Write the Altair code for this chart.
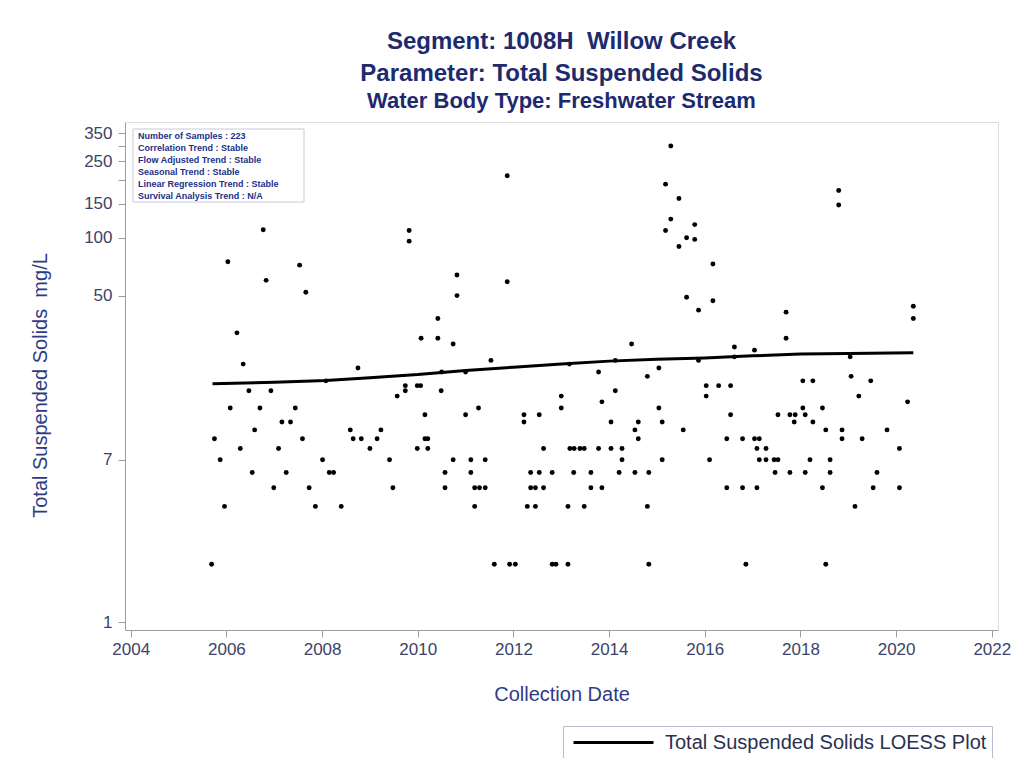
import altair as alt
import pandas as pd

# ---- data ----
years = [
    2006.77, 2009.82, 2009.82, 2006.03, 2007.53, 2006.83, 2007.66, 2006.22, 2010.07, 2006.35,
    2008.75, 2008.08, 2006.47, 2006.93, 2009.74, 2009.74, 2009.99, 2010.06, 2009.57, 2006.08,
    2006.70, 2007.44, 2010.15, 2007.16, 2007.34, 2006.59, 2008.59, 2009.23, 2005.75, 2007.59,
    2008.65, 2008.82, 2009.15, 2010.15, 2010.21, 2006.29, 2007.09, 2009.00, 2009.99, 2010.21,
    2005.87, 2008.01, 2009.41, 2006.54, 2007.25, 2008.15, 2008.24, 2006.99, 2007.73, 2009.48,
    2005.96, 2007.86, 2008.40, 2005.69,
    2015.29, 2011.87, 2015.18, 2015.46, 2015.29, 2015.18, 2015.79, 2015.62, 2015.79, 2015.46,
    2016.17, 2011.87, 2010.82, 2010.82, 2015.62, 2016.17, 2015.87, 2010.42, 2010.42, 2010.74,
    2014.47, 2011.53, 2010.50, 2011.00, 2013.17, 2013.78, 2014.13, 2015.04, 2014.80, 2015.87,
    2010.49, 2014.13, 2016.03, 2016.29, 2016.03, 2013.85, 2013.00, 2013.00, 2011.27, 2011.00,
    2012.22, 2012.54, 2012.22, 2015.04, 2014.04, 2014.61, 2015.11, 2014.54, 2015.55, 2014.61,
    2012.63, 2013.18, 2013.27, 2013.39, 2013.48, 2013.78, 2014.04, 2014.27, 2010.74, 2011.11,
    2011.41, 2014.27, 2015.11, 2016.10, 2010.57, 2011.11, 2012.36, 2012.54, 2012.81, 2013.26,
    2013.62, 2014.21, 2014.54, 2014.83, 2010.57, 2011.19, 2011.29, 2011.41, 2012.36, 2012.46,
    2012.63, 2013.62, 2013.85, 2011.19, 2012.29, 2012.46, 2013.14, 2013.48, 2014.80, 2011.60,
    2011.92, 2012.04, 2012.81, 2012.89, 2013.14, 2014.83,
    2018.80, 2018.80, 2017.70, 2017.70, 2020.36, 2020.36, 2016.62, 2017.04, 2016.62, 2019.04,
    2019.06, 2016.54, 2018.05, 2018.26, 2019.47, 2019.22, 2020.24, 2016.54, 2017.53, 2017.78,
    2017.89, 2018.05, 2018.10, 2018.46, 2017.87, 2018.26, 2018.53, 2018.87, 2019.81, 2018.87,
    2019.29, 2016.46, 2016.79, 2017.04, 2017.14, 2017.09, 2017.28, 2020.07, 2017.14, 2017.28,
    2017.45, 2017.53, 2018.20, 2018.62, 2017.47, 2017.78, 2018.10, 2018.62, 2019.60, 2016.46,
    2016.79, 2017.09, 2018.46, 2019.52, 2020.07, 2019.14, 2016.86, 2018.53,
]
tss = [
    110, 109, 96, 75, 72, 60, 52, 32, 30, 22,
    21, 18, 16, 16, 17, 16, 17, 17, 15, 13,
    13, 13, 12, 11, 11, 10, 10, 10, 9, 9,
    9, 9, 9, 9, 9, 8, 8, 8, 8, 8,
    7, 7, 7, 6, 6, 6, 6, 5, 5, 5,
    4, 4, 4, 2,
    300, 210, 190, 160, 125, 109, 117, 100, 98, 90,
    73, 59, 64, 50, 49, 47, 42, 38, 30, 28,
    28, 23, 20, 20, 22, 20, 23, 21, 19, 23,
    16, 16, 17, 17, 15, 14, 15, 13, 13, 12,
    12, 12, 11, 13, 11, 11, 11, 10, 10, 9,
    8, 8, 8, 8, 8, 8, 8, 8, 7, 7,
    7, 7, 7, 7, 6, 6, 6, 6, 6, 6,
    6, 6, 6, 6, 5, 5, 5, 5, 5, 5,
    5, 5, 5, 4, 4, 4, 4, 4, 4, 2,
    2, 2, 2, 2, 2, 2,
    176, 148, 41, 30, 44, 38, 27, 26, 24, 24,
    19, 17, 18, 18, 18, 15, 14, 12, 12, 12,
    12, 13, 12, 13, 11, 11, 10, 10, 10, 9,
    9, 9, 9, 9, 9, 8, 8, 8, 7, 7,
    7, 7, 7, 7, 6, 6, 6, 6, 6, 5,
    5, 5, 5, 5, 5, 4, 2, 2,
]

loess_years = [2005.71, 2007.0, 2008.08, 2009.0, 2010.0, 2011.0, 2012.0, 2013.0,
               2014.0, 2015.0, 2016.0, 2017.0, 2018.0, 2019.0, 2020.36]
loess_vals = [17.4, 17.7, 18.1, 18.7, 19.4, 20.4, 21.2, 22.0,
              22.8, 23.3, 23.7, 24.3, 24.8, 25.0, 25.2]
loess_name = "Total Suspended Solids LOESS Plot"

x_ticks = [2004, 2006, 2008, 2010, 2012, 2014, 2016, 2018, 2020, 2022]
y_ticks = [1, 7, 50, 100, 150, 200, 250, 300, 350]

title_lines = ["Segment: 1008H\u00a0 Willow Creek", "Parameter: Total Suspended Solids"]
subtitle_line = "Water Body Type: Freshwater Stream"
y_title = "Total Suspended Solids\u00a0 mg/L"

info_lines = [
    "Number of Samples : 223",
    "Correlation Trend : Stable",
    "Flow Adjusted Trend : Stable",
    "Seasonal Trend : Stable",
    "Linear Regression Trend : Stable",
    "Survival Analysis Trend : N/A",
]

FONT = "Liberation Sans"
LABEL_COLOR = "#3b4468"
TITLE_COLOR = "#1e2a6e"
AXIS_TITLE_COLOR = "#2e3c85"
GRAY = "#9c9c9c"

samples = pd.DataFrame({"year": years, "tss": tss})
loess = pd.DataFrame({"year": loess_years, "tss": loess_vals,
                      "series": [loess_name] * len(loess_years)})

x_enc = alt.X(
    "year:Q",
    scale=alt.Scale(domain=[2003.88, 2022.13], nice=False, zero=False),
    axis=alt.Axis(
        values=x_ticks, format="d", title="Collection Date", grid=False,
        labelFont=FONT, labelFontSize=17, labelColor=LABEL_COLOR,
        labelPadding=4, labelFlush=False, labelOverlap=False,
        tickSize=7, tickColor=GRAY, domainColor=GRAY,
        titleFont=FONT, titleFontSize=20, titleFontWeight="normal",
        titleColor=AXIS_TITLE_COLOR, titleY=64, titleBaseline="middle",
    ),
)
y_enc = alt.Y(
    "tss:Q",
    scale=alt.Scale(type="log", domain=[0.91, 400], nice=False),
    axis=alt.Axis(
        values=y_ticks, format="d", grid=False,
        labelExpr="datum.value == 200 || datum.value == 300 ? '' : datum.label",
        title=y_title,
        labelFont=FONT, labelFontSize=17, labelColor=LABEL_COLOR,
        labelPadding=6, labelOverlap=False,
        tickSize=7, tickColor=GRAY, domainColor=GRAY,
        titleFont=FONT, titleFontSize=20, titleFontWeight="normal",
        titleColor=AXIS_TITLE_COLOR, titleX=-85, titleY=263,
        titleBaseline="middle", titleAlign="center",
    ),
)

points = alt.Chart(samples).mark_circle(size=24, color="#000000", opacity=1).encode(
    x=x_enc, y=y_enc
)

line = alt.Chart(loess).mark_line(strokeWidth=3).encode(
    x="year:Q",
    y="tss:Q",
    color=alt.Color(
        "series:N",
        scale=alt.Scale(range=["#000000"]),
        legend=alt.Legend(
            title=None, orient="none", legendX=438, legendY=604,
            symbolType="M-0.6,0H7.4", symbolSize=400, symbolStrokeWidth=3,
            labelOffset=74, padding=5, strokeColor="#b8bccb",
            labelFont=FONT, labelFontSize=20, labelColor="#2a3050", labelLimit=0,
        ),
    ),
)

one = pd.DataFrame({"k": [0]})
box = alt.Chart(one).mark_rect(fill="white", stroke="#c5c9dc", strokeWidth=1).encode(
    x=alt.value(8), x2=alt.value(179), y=alt.value(7), y2=alt.value(80)
)
info = alt.Chart(one).mark_text(
    align="left", baseline="top", font=FONT, fontSize=9, fontWeight="bold",
    color="#22308a", lineBreak="\n", lineHeight=11.9,
).encode(x=alt.value(13), y=alt.value(10), text=alt.value("\n".join(info_lines)))

chart = alt.layer(points, line, box, info).properties(
    width=873,
    height=508,
    autosize=alt.AutoSizeParams(type="none"),
    padding={"left": 117, "top": 114, "right": 18, "bottom": 128},
    title=alt.TitleParams(
        text=title_lines, subtitle=subtitle_line, anchor="middle",
        font=FONT, fontSize=24, fontWeight="bold", color=TITLE_COLOR, lineHeight=32,
        subtitleFont=FONT, subtitleFontSize=22, subtitleFontWeight="bold",
        subtitleColor=TITLE_COLOR, subtitlePadding=5, offset=10,
    ),
).configure_view(stroke=GRAY, strokeWidth=1.2).configure(background="white")

chart.save("out.html", embed_options={"renderer": "svg", "actions": False})
